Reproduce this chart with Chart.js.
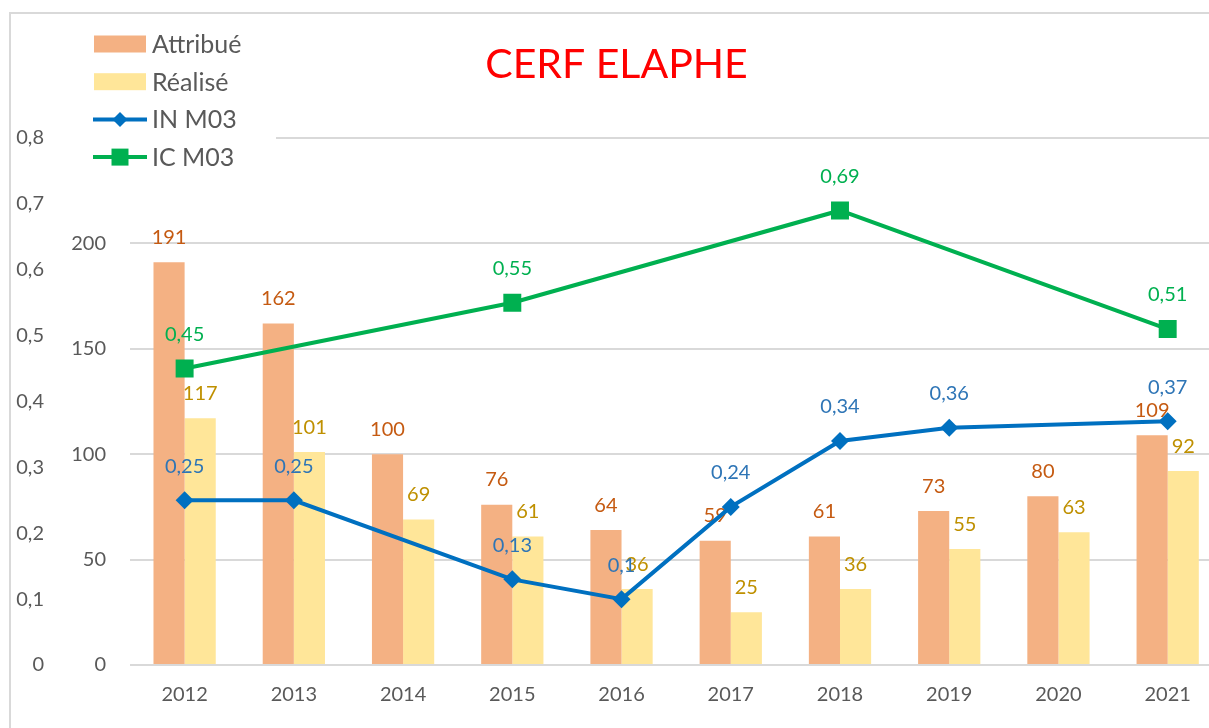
<!DOCTYPE html>
<html lang="fr">
<head>
<meta charset="utf-8">
<title>CERF ELAPHE</title>
<script src="https://cdn.jsdelivr.net/npm/chart.js@4.4.1/dist/chart.umd.min.js"></script>
<style>
  html, body { margin: 0; padding: 0; background: #fff; overflow: hidden; width: 1209px; height: 728px; }
  #frame {
    position: absolute; left: 9px; top: 12px; width: 1300px; height: 800px;
    border-top: 2px solid #d9d9d9; border-left: 2px solid #d9d9d9;
  }
  #chartBox { position: absolute; left: 0; top: 0; width: 1235px; height: 728px; }
  #cerfChart { display: block; width: 1235px; height: 728px; }
</style>
</head>
<body>
<div id="frame"></div>
<div id="chartBox"><canvas id="cerfChart" width="1235" height="728"></canvas></div>
<script>
const years = ["2012", "2013", "2014", "2015", "2016", "2017", "2018", "2019", "2020", "2021"];
const attribue = [191, 162, 100, 76, 64, 59, 61, 73, 80, 109];
const realise = [117, 101, 69, 61, 36, 25, 36, 55, 63, 92];
const inM03 = [0.25, 0.25, null, 0.13, 0.1, 0.24, 0.34, 0.36, null, 0.37];
const icM03 = [0.45, null, null, 0.55, null, null, 0.69, null, null, 0.51];
const countTicks = [0, 50, 100, 150, 200];

const FONT = "Lato";
const GREY_TEXT = "#595959";

function formatDecimal(value) {
  return value.toString().replace(".", ",");
}

// labels above bars and points, drawn right after each dataset
const valueLabels = {
  id: "valueLabels",
  afterDatasetDraw(chart, args) {
    const ds = chart.data.datasets[args.index];
    const ctx = chart.ctx;
    const lift = ds.type === "line" ? 34 : 25;
    ctx.save();
    ctx.font = `20px ${FONT}`;
    ctx.fillStyle = ds.labelColor;
    ctx.textAlign = "center";
    ctx.textBaseline = "middle";
    args.meta.data.forEach((el, i) => {
      const v = ds.data[i];
      if (v === null || v === undefined) return;
      ctx.fillText(formatDecimal(v), el.x, el.y - lift);
    });
    ctx.restore();
  }
};

// legend sitting over the top-left corner, like the Excel one
const cornerLegend = {
  id: "cornerLegend",
  afterDraw(chart) {
    const ctx = chart.ctx;
    const rowTop = 44;
    const rowGap = 37.7;
    ctx.save();
    ctx.fillStyle = "#fff";
    ctx.fillRect(60, 22, 216, 152);

    chart.data.datasets.forEach((ds, row) => {
      const y = rowTop + row * rowGap;
      if (ds.type === "bar") {
        ctx.fillStyle = ds.backgroundColor;
        ctx.fillRect(94, y - 8.5, 52, 17);
      } else {
        ctx.strokeStyle = ds.borderColor;
        ctx.lineWidth = 4;
        ctx.beginPath();
        ctx.moveTo(93, y);
        ctx.lineTo(147, y);
        ctx.stroke();
        ctx.fillStyle = ds.borderColor;
        ctx.beginPath();
        if (ds.pointStyle === "rectRot") {
          ctx.moveTo(120, y - 7.5);
          ctx.lineTo(127.5, y);
          ctx.lineTo(120, y + 7.5);
          ctx.lineTo(112.5, y);
          ctx.closePath();
        } else {
          ctx.rect(111.5, y - 8.5, 17, 17);
        }
        ctx.fill();
      }
      ctx.fillStyle = GREY_TEXT;
      ctx.font = `25px ${FONT}`;
      ctx.textAlign = "left";
      ctx.textBaseline = "middle";
      ctx.fillText(ds.label, 152, y + 1);
    });
    ctx.restore();
  }
};

const ctx = document.getElementById("cerfChart").getContext("2d");

new Chart(ctx, {
  data: {
    labels: years,
    datasets: [
      {
        type: "bar",
        label: "Attribué",
        data: attribue,
        backgroundColor: "#F4B183",
        labelColor: "#C55A11",
        yAxisID: "yCount",
        order: 2,
        barPercentage: 1,
        categoryPercentage: 0.57
      },
      {
        type: "bar",
        label: "Réalisé",
        data: realise,
        backgroundColor: "#FFE699",
        labelColor: "#BF9000",
        yAxisID: "yCount",
        order: 2,
        barPercentage: 1,
        categoryPercentage: 0.57
      },
      {
        type: "line",
        label: "IN M03",
        data: inM03,
        borderColor: "#0070C0",
        backgroundColor: "#0070C0",
        labelColor: "#2E75B6",
        borderWidth: 4,
        pointStyle: "rectRot",
        pointRadius: 9,
        pointBorderWidth: 0,
        tension: 0,
        spanGaps: true,
        yAxisID: "yIndex",
        order: 1
      },
      {
        type: "line",
        label: "IC M03",
        data: icM03,
        borderColor: "#00B050",
        backgroundColor: "#00B050",
        labelColor: "#00B050",
        borderWidth: 4,
        pointStyle: "rect",
        pointRadius: 12.7,
        pointBorderWidth: 0,
        tension: 0,
        spanGaps: true,
        yAxisID: "yIndex",
        order: 0
      }
    ]
  },
  options: {
    responsive: false,
    animation: false,
    layout: {
      padding: { left: 0, right: 2, top: 0, bottom: 0 }
    },
    plugins: {
      legend: { display: false },
      tooltip: { enabled: false },
      title: {
        display: true,
        text: "CERF ELAPHE",
        color: "#FF0000",
        font: { family: FONT, size: 41, weight: "normal", lineHeight: 1.2 },
        padding: { top: 40, bottom: 48.8 }
      }
    },
    scales: {
      x: {
        grid: { display: false },
        border: { display: false },
        afterFit(scale) { scale.height = 63; },
        ticks: {
          color: GREY_TEXT,
          padding: 10,
          font: { family: FONT, size: 20 }
        }
      },
      yCount: {
        position: "left",
        weight: 0,
        min: 0,
        max: 250,
        grid: { color: "#D9D9D9", lineWidth: 2, drawTicks: false },
        border: { display: false },
        afterBuildTicks(scale) {
          scale.ticks = [0, 50, 100, 150, 200, 250].map(v => ({ value: v }));
        },
        afterFit(scale) { scale.width = 80; },
        ticks: {
          color: GREY_TEXT,
          padding: 24,
          font: { family: FONT, size: 20 },
          callback: value => (countTicks.includes(value) ? String(value) : "")
        }
      },
      yIndex: {
        position: "left",
        weight: 1,
        min: 0,
        max: 0.8,
        grid: { display: false, drawTicks: false },
        border: { display: false },
        afterFit(scale) { scale.width = 50; },
        ticks: {
          stepSize: 0.1,
          color: GREY_TEXT,
          padding: 6,
          font: { family: FONT, size: 20 },
          callback: value => formatDecimal(Math.round(value * 10) / 10)
        }
      }
    }
  },
  plugins: [valueLabels, cornerLegend]
});
</script>
</body>
</html>
